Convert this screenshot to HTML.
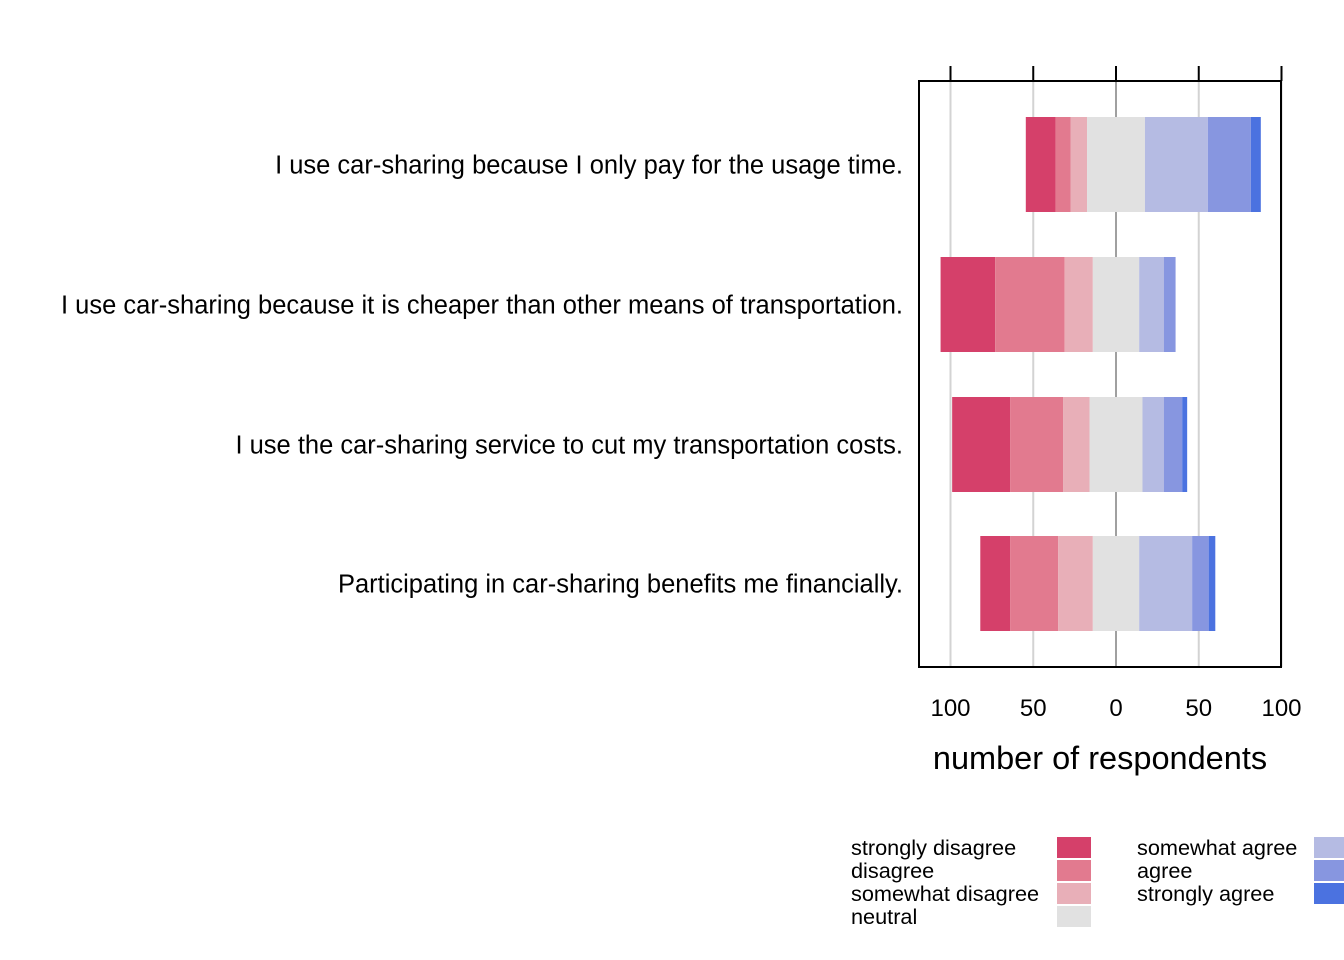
<!DOCTYPE html>
<html><head><meta charset="utf-8"><style>
html,body{margin:0;padding:0;background:#fff;}
svg{display:block;font-family:"Liberation Sans",Arial,sans-serif;}
</style></head><body>
<svg id="chart" width="1344" height="960" xmlns="http://www.w3.org/2000/svg">
<g id="grid"></g>
<g id="bars"></g>
<rect x="919" y="81" width="362" height="586" fill="none" stroke="#000" stroke-width="2"/>
<g id="ticks"></g>
<g id="labels"></g>
<text x="1100" y="769" font-size="32.5" text-anchor="middle">number of respondents</text>
<g id="legend"></g>
</svg>
<script>
const categories=["I use car-sharing because I only pay for the usage time.","I use car-sharing because it is cheaper than other means of transportation.","I use the car-sharing service to cut my transportation costs.","Participating in car-sharing benefits me financially."];
const levels=["strongly disagree","disagree","somewhat disagree","neutral","somewhat agree","agree","strongly agree"];
const colors=["#d5406a","#e27a8f","#e8afb8","#e1e1e1","#b5bbe3","#8796e0","#4b72e0"];
const stronglyDisagree=[18,33,35,18];
const disagree=[9,42,32,29];
const somewhatDisagree=[10,17,16,21];
const neutral=[35,28,32,28];
const somewhatAgree=[38,15,13,32];
const agree=[26,7,11,10];
const stronglyAgree=[6,0,3,4];
const tickValues=[-100,-50,0,50,100];
const tickLabels=["100","50","0","50","100"];
const NS="http://www.w3.org/2000/svg";
const x0=1116, k=1.655;
const X=v=>x0+v*k;
const bandTop=[117,257,397,536], barH=95;
function el(tag,attrs,parent){const e=document.createElementNS(NS,tag);for(const a in attrs)e.setAttribute(a,attrs[a]);parent.appendChild(e);return e;}
const grid=document.getElementById('grid'),bars=document.getElementById('bars'),ticks=document.getElementById('ticks'),labels=document.getElementById('labels'),legend=document.getElementById('legend');
tickValues.forEach((t,i)=>{
  const g=el('line',{x1:X(t),x2:X(t),y1:81,y2:667,stroke:t===0?'#a0a0a0':'#d3d3d3','stroke-width':2},grid);
  
  
  const tk=el('line',{x1:X(t),x2:X(t),y1:66,y2:81,stroke:'#000','stroke-width':2},ticks);
  
  
  const tl=el('text',{x:X(t),y:716,'font-size':24,'text-anchor':'middle'},ticks);
  tl.textContent=tickLabels[i];
  
  
});
const series=[stronglyDisagree,disagree,somewhatDisagree,neutral,somewhatAgree,agree,stronglyAgree];
categories.forEach((c,i)=>{
  let start=-(series[0][i]+series[1][i]+series[2][i]+series[3][i]/2);
  series.forEach((s,j)=>{
    const v=s[i];
    if(v>0){
      const r=el('rect',{x:X(start),y:bandTop[i],width:v*k,height:barH,fill:colors[j]},bars);
      
      
    }
    start+=v;
  });
  const t=el('text',{x:903,y:bandTop[i]+barH/2+9,'font-size':25.5,'text-anchor':'end'},labels);
  t.textContent=c;
  
  
});
levels.forEach((l,j)=>{
  const col=j<4?0:1,row=j<4?j:j-4;
  const tx=col===0?851:1137, sx=col===0?1057:1314;
  const y=837+row*23;
  const t=el('text',{x:tx,y:y+18,'font-size':21.7},legend);
  t.textContent=l;
  
  
  const r=el('rect',{x:sx,y:y,width:34,height:21,fill:colors[j]},legend);
  
  
});
</script>
</body></html>
